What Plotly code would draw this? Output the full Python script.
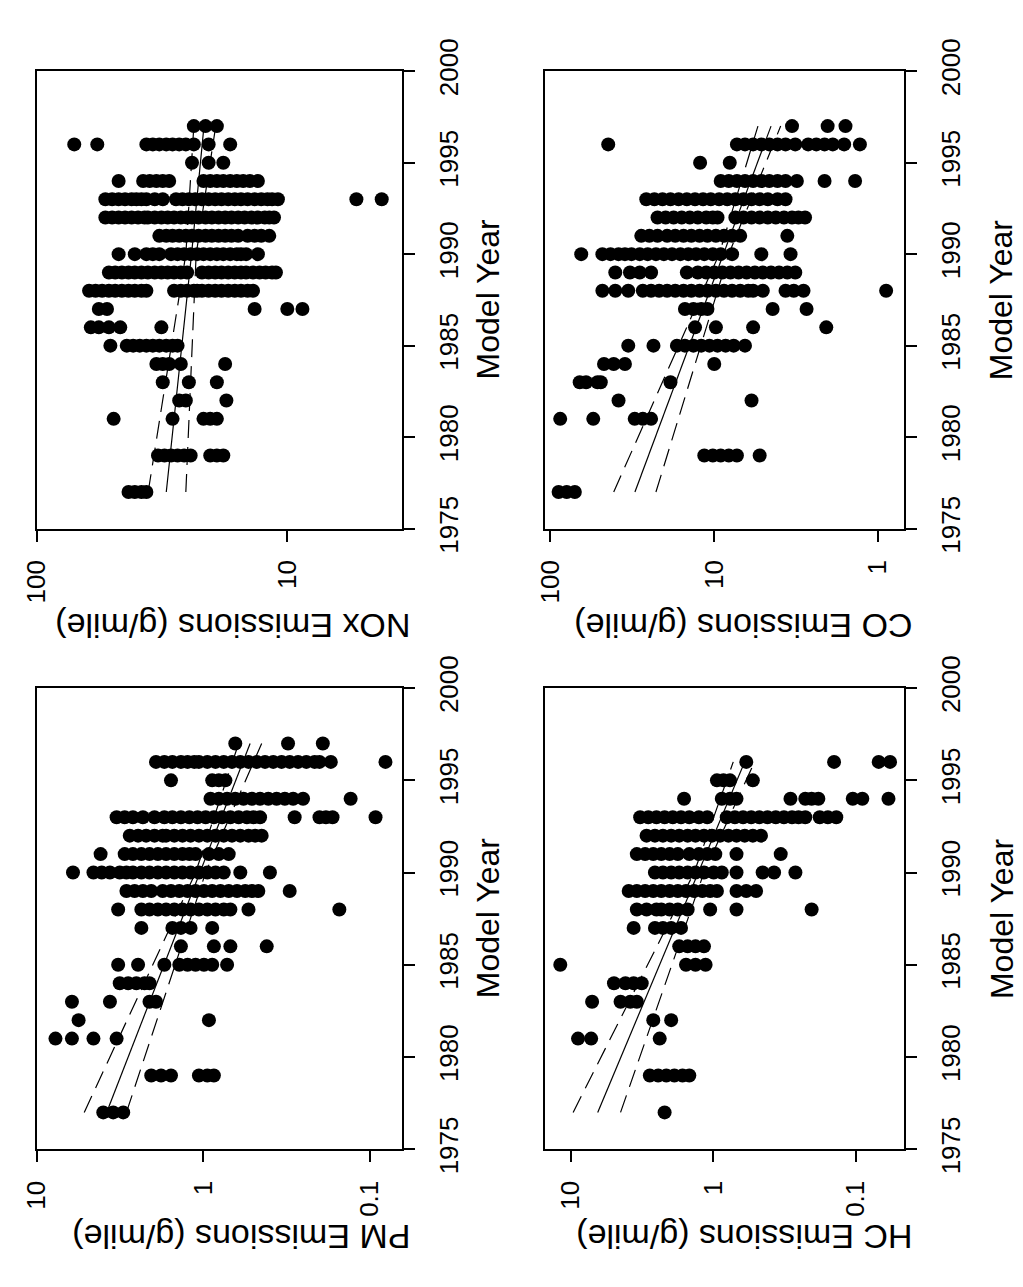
import math
import plotly.graph_objects as go

# ---------------- data ----------------
nox_years = [1977, 1979, 1981, 1982, 1983, 1984, 1985, 1986, 1987, 1988,
             1989, 1990, 1991, 1992, 1993, 1994, 1995, 1996, 1997]
nox_values = [
    [43.0, 40.6, 38.2, 36.5],
    [32.8, 30.9, 29.1, 27.4, 25.8, 24.3, 20.3, 19.1, 18.0],
    [49.3, 28.7, 21.6, 20.3, 19.1],
    [27.0, 25.4, 17.5],
    [31.4, 24.7, 19.1],
    [33.3, 31.4, 29.6, 26.6, 17.7],
    [50.8, 43.7, 41.2, 38.8, 36.5, 34.4, 32.4, 30.4, 28.7, 27.4],
    [60.8, 56.5, 51.5, 46.4, 31.8],
    [56.5, 52.4, 13.5, 10.0, 8.7],
    [61.8, 58.2, 54.8, 51.5, 48.6, 45.7, 43.0, 40.6, 38.2, 36.5, 28.3, 26.6, 25.1,
     23.6, 22.9, 21.9, 20.6, 19.4, 18.3, 17.2, 16.2, 15.3, 14.4, 13.7],
    [51.5, 48.6, 45.7, 43.0, 40.6, 38.2, 36.0, 33.8, 31.8, 30.0, 28.3, 26.6, 25.1,
     21.9, 20.6, 19.4, 18.3, 17.2, 16.2, 15.3, 14.6, 13.7, 12.9, 12.2, 11.5, 11.1],
    [47.1, 40.6, 36.5, 34.4, 32.4, 29.1, 27.4, 25.8, 24.3, 22.9, 21.6, 20.3, 19.1,
     18.0, 16.9, 15.9, 15.3, 14.6, 13.1],
    [32.4, 30.4, 28.7, 27.0, 25.4, 24.0, 22.6, 21.2, 20.0, 18.8, 17.7, 16.7, 15.7,
     14.4, 13.5, 12.7, 11.8],
    [53.2, 50.0, 47.1, 44.4, 41.8, 39.4, 37.1, 36.0, 33.8, 31.8, 30.0, 28.3, 26.6,
     25.1, 24.0, 22.6, 21.2, 20.0, 18.8, 17.7, 16.7, 15.7, 14.8, 13.9, 13.1, 12.3,
     11.8, 11.3],
    [53.2, 50.0, 47.1, 44.4, 41.8, 40.0, 38.2, 36.5, 33.8, 31.4, 27.8, 26.2, 24.7,
     23.3, 21.9, 20.6, 19.4, 18.3, 17.2, 16.2, 15.3, 14.4, 13.5, 12.7, 12.0, 11.5,
     10.9, 5.3, 4.2],
    [47.1, 37.6, 35.4, 33.3, 31.4, 29.6, 21.6, 20.3, 19.1, 18.0, 16.9, 15.9, 15.0,
     14.1, 13.1],
    [24.0, 20.6, 18.0],
    [70.8, 57.3, 36.5, 34.4, 32.4, 30.4, 28.7, 27.0, 25.4, 23.6, 20.6, 16.9],
    [23.6, 21.2, 19.1],
]
nox_fit_years = [1977, 1990, 1997]
nox_fit = [30.4, 24.1, 21.5]
nox_upper = [35.9, 25.4, 23.6]
nox_lower = [25.4, 23.1, 19.3]

co_years = [1977, 1979, 1981, 1982, 1983, 1984, 1985, 1986, 1987, 1988,
            1989, 1990, 1991, 1992, 1993, 1994, 1995, 1996, 1997]
co_values = [
    [89.2, 79.6, 71.0],
    [11.5, 10.2, 9.13, 8.15, 7.27, 5.28],
    [87.2, 54.8, 30.6, 27.3, 24.3],
    [38.4, 5.92],
    [66.3, 60.6, 51.6, 49.3, 18.5],
    [47.1, 41.1, 35.1, 10.0],
    [33.5, 23.5, 16.9, 15.1, 13.4, 12.0, 10.7, 9.55, 8.52, 7.61, 6.49],
    [13.1, 9.77, 5.79, 2.07],
    [15.1, 13.4, 12.0, 11.0, 4.40, 2.73],
    [48.2, 40.2, 33.5, 27.3, 24.3, 21.7, 19.4, 17.3, 15.4, 13.8, 12.3, 11.0, 9.77,
     8.72, 7.78, 6.94, 6.20, 5.79, 5.05, 3.67, 3.27, 2.85, 0.892],
    [40.2, 32.7, 28.5, 24.3, 14.7, 12.6, 11.2, 10.0, 8.92, 7.96, 7.10, 6.34, 5.65,
     5.05, 4.50, 4.02, 3.58, 3.20],
    [64.9, 48.2, 43.0, 38.4, 35.1, 32.0, 28.5, 25.5, 22.7, 20.3, 18.1, 16.1, 14.4,
     12.9, 11.5, 10.2, 9.13, 7.78, 5.16, 3.42],
    [27.9, 24.9, 22.2, 19.4, 17.3, 15.4, 13.8, 12.3, 11.0, 9.77, 8.72, 7.78, 6.94,
     3.58],
    [22.2, 19.8, 17.7, 15.8, 14.1, 12.6, 11.2, 10.2, 9.55, 7.43, 6.63, 5.92, 5.28,
     4.71, 4.21, 3.75, 3.35, 3.06, 2.79],
    [26.0, 23.2, 20.7, 18.5, 16.5, 14.7, 13.1, 11.7, 10.5, 9.34, 8.33, 7.43, 6.63,
     5.92, 5.28, 4.71, 4.11, 3.67],
    [9.13, 8.15, 7.27, 6.49, 5.79, 5.16, 4.61, 4.11, 3.67, 3.13, 2.12, 1.38],
    [12.2, 8.04],
    [44.4, 7.27, 6.49, 5.79, 5.16, 4.61, 4.11, 3.67, 3.20, 2.67, 2.38, 2.12, 1.89,
     1.61, 1.29],
    [3.35, 2.03, 1.58],
]
co_fit_years = [1977, 1990, 1997]
co_fit = [30.5, 8.81, 4.50]
co_upper = [41.1, 9.33, 5.41]
co_lower = [22.7, 8.15, 3.93]

pm_years = [1977, 1979, 1981, 1982, 1983, 1984, 1985, 1986, 1987, 1988,
            1989, 1990, 1991, 1992, 1993, 1994, 1995, 1996, 1997]
pm_values = [
    [3.98, 3.47, 3.02],
    [2.05, 1.79, 1.56, 1.06, 0.944, 0.862],
    [7.71, 6.14, 4.56, 3.31],
    [5.60, 0.923],
    [6.14, 3.63, 2.10, 1.92],
    [3.17, 2.82, 2.52, 2.25, 2.10],
    [3.24, 2.46, 1.71, 1.39, 1.24, 1.11, 0.989, 0.882, 0.718],
    [1.36, 0.862, 0.686, 0.415],
    [2.35, 1.53, 1.36, 1.19, 0.882],
    [3.24, 2.35, 2.10, 1.87, 1.67, 1.49, 1.33, 1.19, 1.06, 0.944, 0.843, 0.752,
     0.686, 0.534, 0.152],
    [2.89, 2.58, 2.30, 2.05, 1.75, 1.56, 1.39, 1.24, 1.11, 0.989, 0.882, 0.787,
     0.702, 0.626, 0.559, 0.510, 0.466, 0.302],
    [6.05, 4.56, 4.07, 3.63, 3.17, 2.89, 2.64, 2.35, 2.10, 1.87, 1.67, 1.49, 1.33,
     1.19, 1.06, 0.944, 0.843, 0.752, 0.598, 0.397],
    [4.13, 2.96, 2.64, 2.35, 2.10, 1.87, 1.67, 1.49, 1.33, 1.21, 1.11, 0.923,
     0.805, 0.702],
    [2.76, 2.46, 2.20, 1.96, 1.75, 1.67, 1.49, 1.33, 1.19, 1.06, 0.944, 0.843,
     0.752, 0.671, 0.598, 0.534, 0.487, 0.445],
    [3.31, 2.96, 2.64, 2.30, 1.96, 1.71, 1.53, 1.36, 1.21, 1.08, 0.966, 0.862,
     0.769, 0.686, 0.612, 0.546, 0.499, 0.455, 0.282, 0.200, 0.183, 0.167, 0.0921],
    [0.903, 0.805, 0.718, 0.641, 0.572, 0.510, 0.455, 0.406, 0.362, 0.323, 0.288,
     0.251, 0.130],
    [1.56, 0.882, 0.805, 0.735],
    [1.92, 1.71, 1.53, 1.36, 1.24, 1.13, 1.06, 0.944, 0.843, 0.752, 0.671, 0.598,
     0.534, 0.476, 0.425, 0.379, 0.338, 0.302, 0.269, 0.240, 0.214, 0.200, 0.171,
     0.0803],
    [0.641, 0.309, 0.191],
]
pm_fit_years = [1977, 1990, 1997]
pm_fit = [3.80, 1.045, 0.522]
pm_upper = [5.18, 1.11, 0.612]
pm_lower = [2.89, 0.966, 0.445]

hc_years = [1977, 1979, 1981, 1982, 1983, 1984, 1985, 1986, 1987, 1988,
            1989, 1990, 1991, 1992, 1993, 1994, 1995, 1996]
hc_values = [
    [2.19],
    [2.78, 2.43, 2.13, 1.87, 1.64, 1.47],
    [8.86, 7.17, 2.37],
    [2.63, 1.97],
    [7.06, 4.46, 3.81, 3.43],
    [4.96, 4.12, 3.61, 3.17],
    [11.8, 1.55, 1.33, 1.13],
    [1.73, 1.51, 1.33, 1.16],
    [3.61, 2.56, 2.25, 1.97, 1.68],
    [3.43, 2.93, 2.50, 2.31, 2.02, 1.77, 1.51, 1.05, 0.686, 0.204],
    [3.91, 3.43, 3.00, 2.63, 2.31, 2.02, 1.77, 1.55, 1.36, 1.19, 1.05, 0.941,
     0.686, 0.586, 0.500],
    [2.56, 2.25, 1.97, 1.73, 1.51, 1.33, 1.16, 0.992, 0.870, 0.686, 0.450, 0.374,
     0.265],
    [3.43, 3.00, 2.63, 2.31, 2.02, 1.77, 1.47, 1.26, 1.10, 0.966, 0.686, 0.336],
    [2.93, 2.56, 2.25, 1.97, 1.73, 1.51, 1.33, 1.16, 1.02, 0.893, 0.782, 0.686,
     0.601, 0.527, 0.462],
    [3.25, 2.85, 2.50, 2.19, 1.92, 1.68, 1.47, 1.26, 1.10, 0.803, 0.704, 0.617,
     0.541, 0.474, 0.416, 0.364, 0.319, 0.280, 0.252, 0.226, 0.179, 0.157, 0.137],
    [1.60, 0.870, 0.762, 0.686, 0.287, 0.226, 0.204, 0.183, 0.105, 0.090, 0.059],
    [0.941, 0.847, 0.762, 0.527],
    [0.586, 0.142, 0.0691, 0.0575],
]
hc_fit_years = [1977, 1990, 1996]
hc_fit = [6.45, 1.27, 0.601]
hc_upper = [9.59, 1.36, 0.723]
hc_lower = [4.46, 1.16, 0.513]

year_ticks = [1975, 1980, 1985, 1990, 1995, 2000]
nox_ticks = [100, 10]
co_ticks = [100, 10, 1]
pm_ticks = [10, 1, 0.1]
hc_ticks = [10, 1, 0.1]
tick_text = {100: "100", 10: "10", 1: "1", 0.1: "0.1"}

titles = ["NOx Emissions (g/mile)", "CO Emissions (g/mile)",
          "PM Emissions (g/mile)", "HC Emissions (g/mile)"]
xlabel = "Model Year"

# axis extents (g/mile) at the left / right box edges
nox_span = [100, 3.49]
co_span = [108.6, 0.695]
pm_span = [10, 0.064]
hc_span = [15.2, 0.046]
year_span = [1975, 2000]

# ---------------- layout geometry (pixels) ----------------
W, H = 1023, 1287
COLS = [(21, 392), (537, 902)]
ROWS = [(40, 519), (686, 1169)]
TITLE_Y = [621, 1261]
YEARLABEL_X = [479, 1001]
FONT = "Liberation Sans, Arial, Helvetica, sans-serif"

panels = [
    (nox_years, nox_values, nox_fit_years, nox_fit, nox_upper, nox_lower, nox_ticks, nox_span, 0, 0),
    (co_years, co_values, co_fit_years, co_fit, co_upper, co_lower, co_ticks, co_span, 0, 1),
    (pm_years, pm_values, pm_fit_years, pm_fit, pm_upper, pm_lower, pm_ticks, pm_span, 1, 0),
    (hc_years, hc_values, hc_fit_years, hc_fit, hc_upper, hc_lower, hc_ticks, hc_span, 1, 1),
]

fig = go.Figure()
annotations = []
layout_axes = {}

for i, (yrs, vals, fy, fit, up, lo, ticks, span, r, c) in enumerate(panels):
    sfx = "" if i == 0 else str(i + 1)
    xa, ya = "x" + sfx, "y" + sfx
    xs, ys = [], []
    for yr, vlist in zip(yrs, vals):
        for v in vlist:
            xs.append(v)
            ys.append(yr)
    fig.add_trace(go.Scatter(x=xs, y=ys, mode="markers", xaxis=xa, yaxis=ya,
                             marker=dict(size=14, color="black", line=dict(width=0)),
                             hoverinfo="skip", showlegend=False))
    fig.add_trace(go.Scatter(x=fit, y=fy, mode="lines", xaxis=xa, yaxis=ya,
                             line=dict(color="black", width=1.2),
                             hoverinfo="skip", showlegend=False))
    for band in (up, lo):
        fig.add_trace(go.Scatter(x=band, y=fy, mode="lines", xaxis=xa, yaxis=ya,
                                 line=dict(color="black", width=1.2, dash="18px,9px"),
                                 hoverinfo="skip", showlegend=False))

    x0, x1 = COLS[c]
    y0, y1 = ROWS[r]
    axis_common = dict(showline=True, mirror=True, linecolor="black", linewidth=2,
                       ticks="outside", ticklen=11, tickwidth=1.6, tickcolor="black",
                       showgrid=False, zeroline=False, tickangle=-90,
                       tickfont=dict(family=FONT, size=26, color="black"))
    layout_axes["xaxis" + sfx] = dict(
        type="log", range=[math.log10(span[0]), math.log10(span[1])],
        domain=[x0 / W, x1 / W], anchor=ya, side="bottom", ticklabelstandoff=8,
        tickvals=ticks, ticktext=[tick_text[t] for t in ticks], **axis_common)
    layout_axes["yaxis" + sfx] = dict(
        range=year_span, domain=[1 - y1 / H, 1 - y0 / H], anchor=xa, side="right",
        ticklabelstandoff=12,
        tickvals=year_ticks, ticktext=[str(t) for t in year_ticks], **axis_common)

    annotations.append(dict(text=titles[i], textangle=180, xref="paper", yref="paper",
                            x=(x1 + 11) / W, y=1 - TITLE_Y[r] / H,
                            showarrow=False, xanchor="right", yanchor="middle",
                            font=dict(family=FONT, size=34, color="black")))
    annotations.append(dict(text=xlabel, textangle=-90, xref="paper", yref="paper",
                            x=YEARLABEL_X[c] / W, y=1 - ((y0 + y1) / 2) / H,
                            showarrow=False, xanchor="center", yanchor="middle",
                            font=dict(family=FONT, size=32, color="black")))

fig.update_layout(width=W, height=H, autosize=False,
                  margin=dict(l=0, r=0, t=0, b=0),
                  paper_bgcolor="white", plot_bgcolor="white",
                  showlegend=False, annotations=annotations, **layout_axes)

fig.write_html("out.html", config={"displayModeBar": False},
               post_script="document.body.style.margin='0';document.body.style.overflow='hidden';")
